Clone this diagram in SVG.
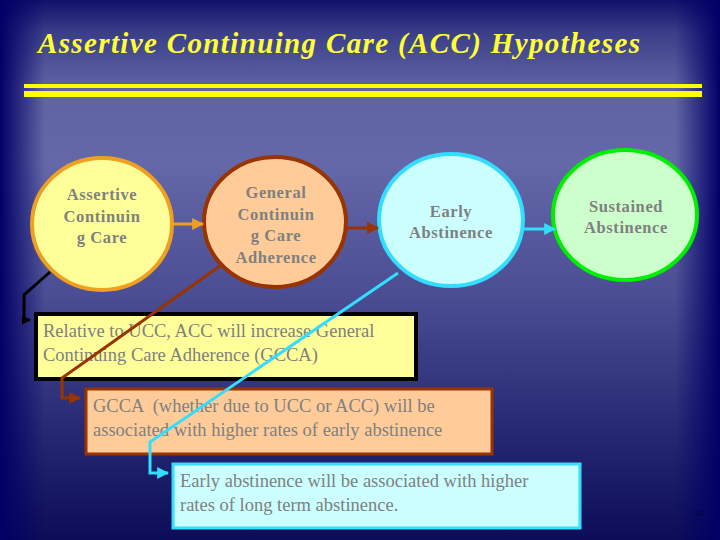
<svg xmlns="http://www.w3.org/2000/svg" width="720" height="540" viewBox="0 0 720 540">
<defs>
<linearGradient id="bgv" x1="0" y1="0" x2="0" y2="1">
<stop offset="0" stop-color="#10106a"/>
<stop offset="0.06" stop-color="#3a3e88"/>
<stop offset="0.16" stop-color="#5f63a3"/>
<stop offset="0.3" stop-color="#6468a8"/>
<stop offset="0.55" stop-color="#4a4d92"/>
<stop offset="0.8" stop-color="#262872"/>
<stop offset="1" stop-color="#0c0c58"/>
</linearGradient>
<linearGradient id="edgeL" x1="0" y1="0" x2="1" y2="0">
<stop offset="0" stop-color="#000066" stop-opacity="1"/>
<stop offset="1" stop-color="#000066" stop-opacity="0"/>
</linearGradient>
<linearGradient id="edgeR" x1="1" y1="0" x2="0" y2="0">
<stop offset="0" stop-color="#000066" stop-opacity="1"/>
<stop offset="1" stop-color="#000066" stop-opacity="0"/>
</linearGradient>
<marker id="aOr" viewBox="0 0 10 10" refX="9" refY="5" markerWidth="4" markerHeight="4" orient="auto" markerUnits="strokeWidth"><path d="M0,0 L10,5 L0,10 z" fill="#f0a020"/></marker>
<marker id="aBr" viewBox="0 0 10 10" refX="9" refY="5" markerWidth="4" markerHeight="4" orient="auto" markerUnits="strokeWidth"><path d="M0,0 L10,5 L0,10 z" fill="#993300"/></marker>
<marker id="aCy" viewBox="0 0 10 10" refX="9" refY="5" markerWidth="4" markerHeight="4" orient="auto" markerUnits="strokeWidth"><path d="M0,0 L10,5 L0,10 z" fill="#33ddff"/></marker>
<marker id="aBk" viewBox="0 0 10 10" refX="9" refY="5" markerWidth="3" markerHeight="3" orient="auto" markerUnits="strokeWidth"><path d="M0,0 L10,5 L0,10 z" fill="#000000"/></marker>
</defs>
<style>
.ct{font-family:'Liberation Serif',serif;font-weight:bold;font-size:16.5px;fill:#808080;text-anchor:middle;letter-spacing:0.6px}
.bt{font-family:'Liberation Serif',serif;font-size:18.5px;fill:#808080}
.cn{fill:none;stroke-width:3}
</style>
<rect x="0" y="0" width="720" height="540" fill="url(#bgv)"/>
<rect x="0" y="0" width="45" height="540" fill="url(#edgeL)"/>
<rect x="675" y="0" width="45" height="540" fill="url(#edgeR)"/>
<text x="38" y="53" font-family="'Liberation Serif',serif" font-style="italic" font-weight="bold" font-size="29" fill="#ffff33" textLength="602" lengthAdjust="spacing">Assertive Continuing Care (ACC) Hypotheses</text>
<rect x="24" y="84" width="678" height="4" fill="#ffff00"/>
<rect x="24" y="91" width="678" height="6" fill="#ffff00"/>
<g id="n1">
<ellipse cx="102" cy="224" rx="70" ry="66" fill="#ffff99" stroke="#f0a020" stroke-width="4"/>
<text class="ct" x="102" y="200">Assertive</text>
<text class="ct" x="102" y="222">Continuin</text>
<text class="ct" x="102" y="243">g Care</text>
</g>
<g id="n2">
<ellipse cx="275" cy="222" rx="71" ry="65" fill="#ffcc99" stroke="#993300" stroke-width="4"/>
<text class="ct" x="276" y="198">General</text>
<text class="ct" x="276" y="220">Continuin</text>
<text class="ct" x="276" y="241">g Care</text>
<text class="ct" x="276" y="263">Adherence</text>
</g>
<g id="n3">
<ellipse cx="451" cy="220" rx="72" ry="66" fill="#ccffff" stroke="#33ddff" stroke-width="4"/>
<text class="ct" x="451" y="217">Early</text>
<text class="ct" x="451" y="238">Abstinence</text>
</g>
<g id="n4">
<ellipse cx="625" cy="215" rx="72" ry="65" fill="#ccffcc" stroke="#00ee00" stroke-width="4"/>
<text class="ct" x="626" y="212">Sustained</text>
<text class="ct" x="626" y="233">Abstinence</text>
</g>
<g id="b1">
<rect x="36" y="314" width="380" height="65" fill="#ffff99" stroke="#000000" stroke-width="4"/>
<text class="bt" x="43" y="337">Relative to UCC, ACC will increase General</text>
<text class="bt" x="43" y="361">Continuing Care Adherence (GCCA)</text>
</g>
<g id="b2">
<rect x="86" y="389" width="406" height="65" fill="#ffcc99" stroke="#993300" stroke-width="3"/>
<text class="bt" x="93" y="412" xml:space="preserve">GCCA  (whether due to UCC or ACC) will be</text>
<text class="bt" x="93" y="436">associated with higher rates of early abstinence</text>
</g>
<g id="b3">
<rect x="173" y="464" width="407" height="64" fill="#ccffff" stroke="#33ddff" stroke-width="3"/>
<text class="bt" x="180" y="487">Early abstinence will be associated with higher</text>
<text class="bt" x="180" y="511">rates of long term abstinence.</text>
</g>
<g id="connectors">
<line class="cn" x1="173" y1="224" x2="203" y2="224" stroke="#f0a020" marker-end="url(#aOr)"/>
<line class="cn" x1="347" y1="228" x2="378" y2="228" stroke="#993300" marker-end="url(#aBr)"/>
<line class="cn" x1="523" y1="229" x2="555" y2="229" stroke="#33ddff" marker-end="url(#aCy)"/>
<polyline class="cn" points="50,272 24,295 24,320 30,320" stroke="#000000" marker-end="url(#aBk)"/>
<polyline class="cn" points="220,266 62,378 62,398 80,398" stroke="#993300" marker-end="url(#aBr)"/>
<polyline class="cn" points="398,273 150,442 150,473 168,473" stroke="#33ddff" marker-end="url(#aCy)"/>
</g>
<text x="699" y="516" font-family="'Liberation Serif',serif" font-size="8" fill="#000033" text-anchor="middle">34</text>
</svg>
